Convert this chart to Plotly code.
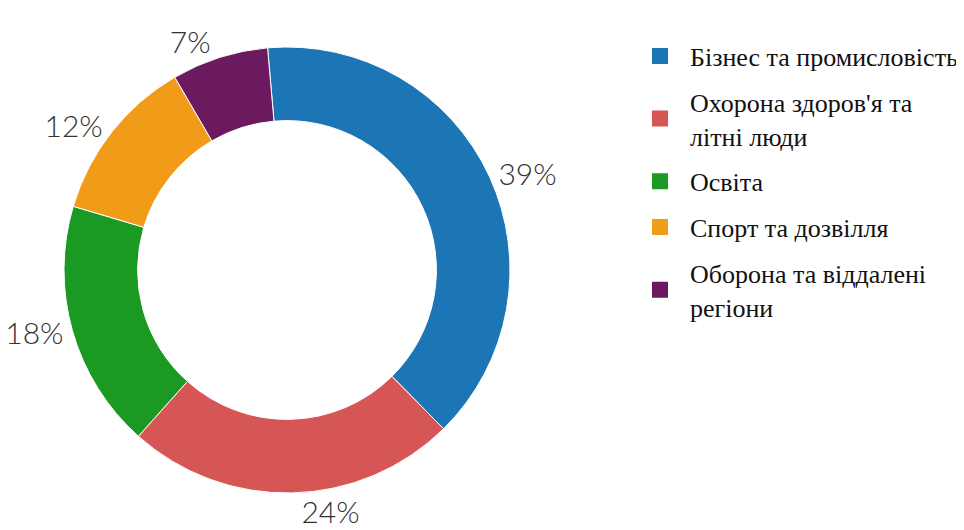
import plotly.graph_objects as go

categories = [
    "Бізнес та промисловість",
    "Охорона здоров'я та<br>літні люди",
    "Освіта",
    "Спорт та дозвілля",
    "Оборона та віддалені<br>регіони",
]
shares = [39, 24, 18, 12, 7]
colors = ["#1c75b4", "#d65656", "#1a9a23", "#f09c18", "#6b1a60"]

# the page body adds an 8px offset; box given in paper pixels
W, H = 964, 530
px_l, px_r, px_t, px_b = 56, 502, 39, 485

fig = go.Figure()
fig.add_trace(go.Pie(
    labels=categories,
    values=shares,
    hole=0.67,
    sort=False,
    direction="clockwise",
    rotation=-5,
    marker=dict(colors=colors, line=dict(color="white", width=1)),
    texttemplate="%{value}%",
    textposition="outside",
    textfont=dict(family="Lato", size=30, color="#333333", weight=300),
    showlegend=False,
    domain=dict(x=[px_l/W, px_r/W], y=[1-px_b/H, 1-px_t/H]),
))

for i, (name, col) in enumerate(zip(categories, colors)):
    fig.add_trace(go.Scatter(
        x=[None], y=[None], mode="markers", name=name,
        legendgroup=f"g{i}",
        marker=dict(symbol="square", size=16, color=col),
    ))

fig.update_layout(
    width=W, height=H,
    margin=dict(l=0, r=0, t=0, b=0, autoexpand=False),
    font=dict(family="Liberation Serif", color="#111111"),
    paper_bgcolor="white", plot_bgcolor="white",
    xaxis=dict(visible=False), yaxis=dict(visible=False),
    legend=dict(
        x=622/W, xanchor="left",
        y=1-24.5/H, yanchor="top",
        font=dict(family="Liberation Serif", size=26, color="#111111"),
        itemwidth=50,
        tracegroupgap=9,
        bgcolor="rgba(0,0,0,0)",
    ),
)

fig.write_html("out.html")
